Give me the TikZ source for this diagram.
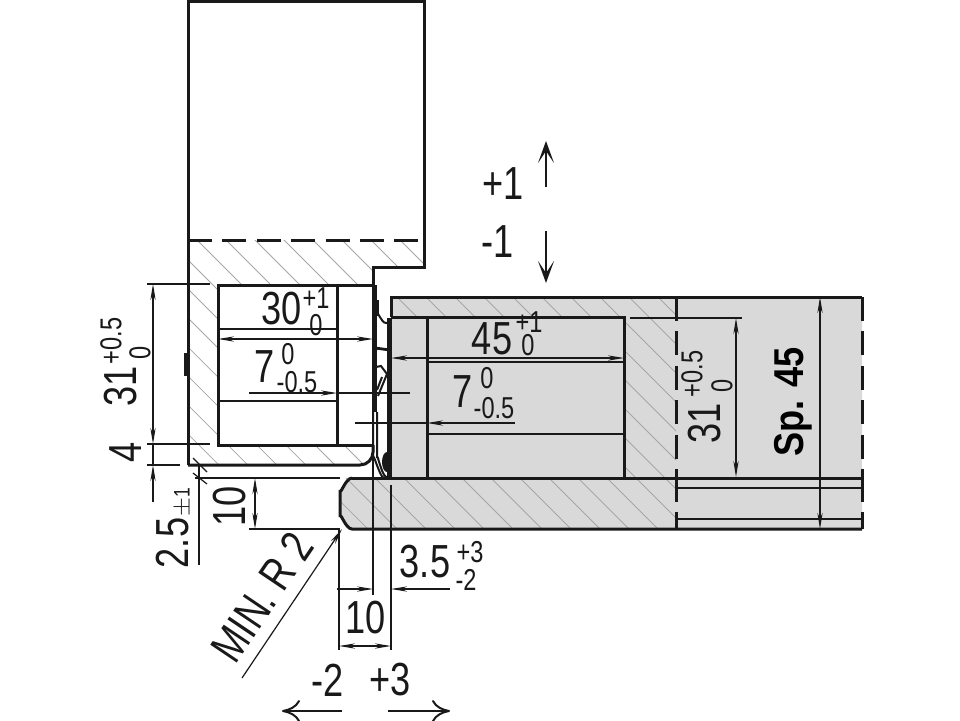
\documentclass[tikz,border=0pt]{standalone}
\usepackage{fontspec}
\setmainfont[FakeStretch=0.78]{Liberation Sans}
\usetikzlibrary{arrows.meta}
\definecolor{platefill}{HTML}{D9D9D9}
\definecolor{hatchline}{HTML}{A6A6A6}
\tikzset{
  outline/.style={line width=0.75mm,black!90},
  thinline/.style={line width=0.3mm,black!90},
  dimline/.style={line width=0.3mm,black!90,>={Stealth[length=4mm,width=1.3mm]}},
  uparrow/.style={line width=0.55mm,black!90,>={Stealth[length=5.5mm,width=4mm,inset=3mm]}},
  openarrow/.style={line width=0.5mm,black!90,>={To[length=4.5mm,width=5.5mm]}},
  cutdash/.style={outline,dash pattern=on 6mm off 2.6mm},
  hatch/.style={line width=0.18mm,hatchline},
  bigtext/.style={inner sep=0,font=\fontsize{33}{33}\selectfont,text=black!90},
  smalltext/.style={inner sep=0,font=\fontsize{21.5}{21.5}\selectfont,text=black!90},
  tinytext/.style={inner sep=0,font=\fontsize{16}{16}\selectfont,text=black!90},
  boldtext/.style={inner sep=0,xscale=0.9,font=\fontsize{33}{33}\selectfont\bfseries,text=black},
}
\begin{document}
\begin{tikzpicture}[x=0.25mm,y=-0.25mm]
\useasboundingbox (0,0) rectangle (960,720);

% grey plate
\fill [platefill] (391,297) -- (862,297) -- (862,529) -- (352,529)
  to [out=180,in=90] (340,517) -- (340,490) to [out=-90,in=180] (352,478) -- (391,478) -- cycle;

% hatching
\begin{scope}
\clip (188,240) -- (424,240) -- (424,267) -- (373,267) -- (373,285) -- (218,285) -- (218,445)
  -- (373,445) -- (373,455) -- (363,465) -- (188,465) -- cycle;
\foreach \h in {-104,-75,...,400}
  \draw [hatch] (\h,200) -- (\h+300,500);
\end{scope}
\begin{scope}
\clip (391,297) -- (676,297) -- (676,478) -- (624,478) -- (624,317) -- (391,317) -- cycle;
\foreach \h in {60,89,...,700}
  \draw [hatch] (\h,250) -- (\h+260,510);
\end{scope}
\begin{scope}
\clip (340,478) -- (676,478) -- (676,529) -- (340,529) -- cycle;
\foreach \h in {60,89,...,700}
  \draw [hatch] (\h,250) -- (\h+300,550);
\end{scope}

% upper part
\draw [outline] (188,465) -- (188,1) -- (424,1) -- (424,267) -- (373,267) -- (373,285);
\draw [cutdash] (188,240) -- (424,240);
\draw [outline] (373,285) -- (218,285) -- (218,445) -- (373,445);
\draw [outline] (188,465) -- (360,465) to [out=0,in=-90] (373,452) -- (373,445);
\draw [outline] (337,285) -- (337,445);
\draw [thinline] (218,329) -- (337,329);
\draw [thinline] (218,401) -- (337,401);
\draw [line width=0.6mm,black!90] (185.5,353) -- (185.5,376);

% lower part
\draw [outline] (391,317) -- (391,297) -- (862,297);
\draw [outline] (391,317) -- (624,317) -- (624,478) -- (391,478);
\draw [outline] (427,317) -- (427,478);
\draw [thinline] (427,362) -- (624,362);
\draw [thinline] (427,434) -- (624,434);
\draw [outline] (352,478) to [out=180,in=-90] (340,490) -- (340,517) to [out=90,in=180] (352,529) -- (862,529);
\draw [outline] (352,478) -- (862,478);
\draw [cutdash] (676,297) -- (676,478);
\draw [cutdash] (676,478) -- (676,529);
\draw [cutdash] (862,297) -- (862,478);
\draw [cutdash] (862,478) -- (862,529);
\draw [thinline] (676,488) -- (862,488);
\draw [thinline] (676,519) -- (862,519);

% hinge
\draw [line width=1.1mm,black!90] (374.5,285) -- (374.5,412);
\draw [line width=1.1mm,black!90] (377,300) -- (377,316);
\draw [line width=1.1mm,black!90] (389.5,318) -- (389.5,478);
\draw [line width=0.5mm,black!90] (377,314) to [out=90,in=180] (386,323) -- (391,322);
\draw [line width=0.7mm,black!90] (375,348) -- (390,350);
\draw [line width=0.5mm,black!90] (376,367) -- (381,366) -- (387,374) -- (378,396);
\draw [line width=0.5mm,black!90] (382,377) -- (377,390);
\draw [line width=0.5mm,black!90] (377,412) -- (377,458) to [out=90,in=-140] (389,477);
\draw [line width=0.5mm,black!90] (373,412) -- (373,458) to [out=90,in=-130] (387,478);
\fill [black!90] (387,462) ellipse (5 and 10);

% arrows top
\draw [uparrow,->] (546,187) -- (546,141);
\draw [uparrow,->] (546,231) -- (546,283);
\node [bigtext] (raise) at (503,184) {+1};
\node [bigtext] (lower) at (498,242) {-1};

% dimensions, left part
\draw [thinline] (147,284) -- (210,284);
\draw [thinline] (147,444) -- (210,444);
\draw [thinline] (147,465) -- (180,465);
\draw [dimline,<->] (153,284) -- (153,444);
\draw [dimline,->] (153,502) -- (153,465);
\draw [dimline] (153,444) -- (153,465);
\draw [dimline,<->] (218,339) -- (373,339);
\draw [dimline,->] (249,393) -- (337,393);
\draw [dimline] (337,393) -- (410,393);
\draw [dimline] (355,423) -- (427,423);
\draw [dimline,<-] (427,423) -- (515,423);
\draw [dimline,<->] (391,358) -- (624,358);

\node [bigtext] (width) at (282,309) {30};
\node [smalltext] (widthup) at (316,298) {+1};
\node [smalltext] (widthlow) at (316,325) {0};
\node [bigtext] (gap) at (265,367) {7};
\node [smalltext] (gapup) at (288,354) {0};
\node [smalltext] (gaplow) at (297,382) {-0.5};
\node [bigtext] (slot) at (492,339) {45};
\node [smalltext] (slotup) at (529,322) {+1};
\node [smalltext] (slotlow) at (528,345) {0};
\node [bigtext] (gapb) at (463,392) {7};
\node [smalltext] (gapbup) at (487,378) {0};
\node [smalltext] (gapblow) at (494,408) {-0.5};

\node [bigtext,rotate=90] (height) at (121,386) {31};
\node [smalltext,rotate=90] (heightup) at (111,341) {+0.5};
\node [smalltext,rotate=90] (heightlow) at (140,353) {0};
\node [bigtext,rotate=90] (lip) at (126,452) {4};

% dimensions, right part
\draw [thinline] (630,318) -- (742,318);
\draw [dimline,<->] (736,318) -- (736,477);
\draw [dimline,<->] (820,297) -- (820,529);
\node [bigtext,rotate=90] (heightb) at (705,423) {31};
\node [smalltext,rotate=90] (heightbup) at (692,374) {+0.5};
\node [smalltext,rotate=90] (heightblow) at (722,386) {0};
\node [boldtext,rotate=90] (thick) at (793,402) {Sp. 45};

% dimensions, below
\draw [thinline] (193,458) -- (207,472);
\draw [thinline] (193,473) -- (207,484);
\draw [thinline] (199,465) -- (199,565);
\draw [thinline] (195,478) -- (340,478);
\draw [thinline] (249,529) -- (340,529);
\draw [dimline,<->] (255,478) -- (255,529);
\node [bigtext,rotate=90] (play) at (173,543) {2.5};
\node [tinytext,rotate=90] (playtol) at (183,502) {$\pm$1};
\node [bigtext,rotate=90] (plate) at (230,506) {10};

\draw [dimline,->] (242,678) -- (342,529);
\node [bigtext,rotate=56] (radius) at (262,597) {MIN. R 2};

\draw [thinline] (339,529) -- (339,650);
\draw [thinline] (373,445) -- (373,595);
\draw [thinline] (391,485) -- (391,650);
\draw [dimline,->] (337,589) -- (373,589);
\draw [dimline,<-] (391,589) -- (450,589);
\draw [dimline,<->] (339,646) -- (391,646);
\node [bigtext] (offset) at (425,562) {3.5};
\node [smalltext] (offsetup) at (470,552) {+3};
\node [smalltext] (offsetlow) at (466,580) {-2};
\node [bigtext] (edge) at (366,618) {10};

\node [bigtext] (minus) at (328,680) {-2};
\node [bigtext] (plus) at (390,680) {+3};
\draw [openarrow,->] (342,711) -- (282,711);
\draw [openarrow,->] (388,711) -- (450,711);
\end{tikzpicture}
\end{document}
